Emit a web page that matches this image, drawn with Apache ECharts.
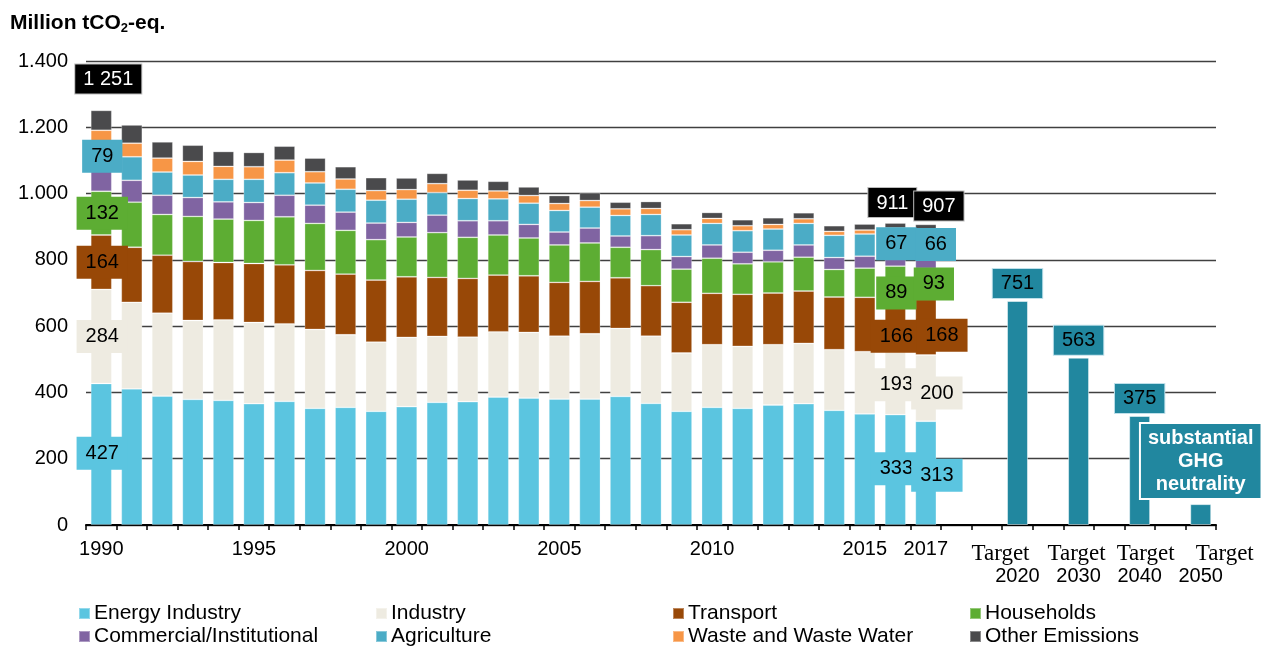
<!DOCTYPE html>
<html><head><meta charset="utf-8">
<script src="https://cdn.jsdelivr.net/npm/echarts@6/dist/echarts.min.js"></script>
<style>html,body{margin:0;padding:0;background:#fff}#c{width:1269px;height:646px}</style>
</head><body><div id="c"></div>
<script>
// ---------- data ----------
const years = ['1990','1991','1992','1993','1994','1995','1996','1997','1998','1999','2000','2001','2002','2003','2004','2005','2006','2007','2008','2009','2010','2011','2012','2013','2014','2015','2016','2017'];
const categories = years.concat(['gap1','gap2','Target 2020','gap3','Target 2030','gap4','Target 2040','gap5','Target 2050']);
const shownYears = ['1990','1995','2000','2005','2010','2015','2017'];
const targetNames = ['Target 2020','Target 2030','Target 2040','Target 2050'];

const energy      = [427,411,389,379,376,366,373,352,355,343,357,370,372,386,383,380,380,388,367,343,355,352,362,366,346,335,333,313];
const industry    = [284,261,250,238,243,245,234,238,219,209,209,199,195,197,198,190,197,205,203,176,189,187,182,182,183,188,193,200];
const transport   = [164,166,175,178,173,178,178,178,183,187,183,178,177,171,171,162,158,153,152,153,155,157,156,158,159,164,166,168];
const households  = [132,136,123,136,131,130,145,142,132,122,120,135,124,121,114,113,116, 92,109,100,106, 92, 94,102, 83, 88, 89, 93];
const commercial  = [ 63, 66, 58, 57, 52, 54, 65, 55, 55, 50, 44, 53, 50, 43, 41, 39, 45, 34, 42, 38, 40, 35, 35, 37, 36, 36, 37, 39];
const agriculture = [ 79, 71, 70, 68, 68, 70, 68, 67, 69, 69, 70, 68, 67, 66, 64, 65, 63, 62, 64, 65, 65, 65, 64, 65, 67, 67, 67, 66];
const waste       = [ 42, 41, 42, 41, 39, 38, 38, 34, 31, 29, 29, 27, 25, 24, 23, 21, 20, 20, 18, 16, 15, 15, 14, 14, 12, 12, 11, 11];
const other       = [ 60, 55, 49, 49, 45, 43, 42, 41, 37, 39, 35, 31, 31, 29, 26, 24, 23, 20, 21, 18, 18, 18, 20, 18, 17, 18, 15, 17];

const targetBars   = [676, 505, 329, 63];
const targetLabels = ['751', '563', '375', 'substantial\nGHG\nneutrality'];

// ---------- styling ----------
const FONT = '"Liberation Sans", Arial, sans-serif';
const SERIF = '"Liberation Serif", "Times New Roman", serif';
const TARGET_COLOR = '#21879f';

const totals = years.map((y, i) => energy[i] + industry[i] + transport[i] + households[i] + commercial[i] + agriculture[i] + waste[i] + other[i]);
function fmtThousands(v, sep) {
  return v >= 1000 ? Math.floor(v / 1000) + sep + String(v % 1000).padStart(3, '0') : String(v);
}

const defs = [
  {name: 'Energy Industry', data: energy, color: '#5bc5e0', lab: {'1990': [1, -1], '2016': [1, -1], '2017': [11, 2]}},
  {name: 'Industry', data: industry, color: '#eeebe1', lab: {'1990': [1, 0], '2016': [1, 2], '2017': [11, 5]}},
  {name: 'Transport', data: transport, color: '#984807', lab: {'1990': [1, 0], '2016': [1, 13], '2017': [16, 8]}},
  {name: 'Households', data: households, color: '#5dad33', lab: {'1990': [1, 0], '2016': [1, 12], '2017': [8, 0]}},
  {name: 'Commercial/Institutional', data: commercial, color: '#8064a2', lab: {}},
  {name: 'Agriculture', data: agriculture, color: '#4bacc6', lab: {'1990': [1, -1], '2016': [1, 1], '2017': [10, 0]}},
  {name: 'Waste and Waste Water', data: waste, color: '#f79646', lab: {}},
  {name: 'Other Emissions', data: other, color: '#4a4a4c', lab: {}, total: {'1990': [[7, 0], 17], '2016': [[-3, 0], 6], '2017': [[13, 0], 4]}}
];

const series = defs.map(d => ({
  name: d.name,
  type: 'bar',
  stack: 'total',
  barWidth: 21,
  itemStyle: {color: d.color, borderColor: 'rgba(255,255,255,0.35)', borderWidth: 0.8},
  data: d.data.map((v, i) => {
    const y = years[i];
    if (d.lab[y]) {
      return {value: v, label: {show: true, position: 'inside', offset: d.lab[y], backgroundColor: d.color,
        color: '#000', fontSize: 20, fontFamily: FONT, padding: [7, 9, 6, 9]}};
    }
    if (d.total && d.total[y]) {
      return {value: v, label: {show: true, position: 'top', offset: d.total[y][0], distance: d.total[y][1],
        backgroundColor: '#000', borderColor: '#bbb', borderWidth: 1, color: '#fff', fontSize: 20, fontFamily: FONT,
        padding: [5, 8, 4, 8], formatter: () => fmtThousands(totals[i], ' ')}};
    }
    return v;
  })
}));

series.push({
  name: 'Target',
  type: 'bar',
  stack: 'total',
  barWidth: 21,
  itemStyle: {color: TARGET_COLOR, borderColor: 'rgba(255,255,255,0.5)', borderWidth: 1},
  data: categories.map(c => {
    const k = targetNames.indexOf(c);
    if (k < 0) return '-';
    const last = k === targetNames.length - 1;
    return {
      value: targetBars[k],
      label: last ? {
        show: true, position: 'top', distance: 6, formatter: () => targetLabels[k],
        backgroundColor: TARGET_COLOR, borderColor: '#fff', borderWidth: 2,
        color: '#fff', fontWeight: 'bold', fontSize: 20, lineHeight: 23, fontFamily: FONT, padding: [3, 7, 2, 7], align: 'center'
      } : {
        show: true, position: 'top', distance: 3, formatter: () => targetLabels[k],
        backgroundColor: TARGET_COLOR, borderColor: '#bfe0ea', borderWidth: 1,
        color: '#000', fontSize: 20, fontFamily: FONT, padding: [5, 8, 4, 8]
      }
    };
  })
});

// legend: 4 columns x 2 rows
const legendCells = [
  {name: 'Energy Industry', left: 78, top: 602.5},
  {name: 'Industry', left: 375, top: 602.5},
  {name: 'Transport', left: 672, top: 602.5},
  {name: 'Households', left: 969, top: 602.5},
  {name: 'Commercial/Institutional', left: 78, top: 625.5},
  {name: 'Agriculture', left: 375, top: 625.5},
  {name: 'Waste and Waste Water', left: 672, top: 625.5},
  {name: 'Other Emissions', left: 969, top: 625.5}
];

const chart = echarts.init(document.getElementById('c'), null, {renderer: 'canvas'});
chart.setOption({
  animation: false,
  backgroundColor: '#fff',
  title: {
    text: '{a|Million tCO}{s|2}{a|-eq.}',
    left: 10, top: 11, padding: 0,
    textStyle: {
      rich: {
        a: {fontFamily: FONT, fontWeight: 'bold', fontSize: 21, lineHeight: 24, color: '#000'},
        s: {fontFamily: FONT, fontWeight: 'bold', fontSize: 13, lineHeight: 4, verticalAlign: 'bottom', color: '#000'}
      }
    }
  },
  legend: legendCells.map(c => ({
    orient: 'horizontal', left: c.left, top: c.top, padding: 0, itemGap: 0,
    itemWidth: 11, itemHeight: 11, icon: 'rect', selectedMode: false,
    textStyle: {fontFamily: FONT, fontSize: 21, lineHeight: 22, color: '#000', padding: [0, 0, 0, -1]},
    data: [c.name]
  })),
  grid: {left: 86, right: 53, top: 61, bottom: 121, containLabel: false},
  xAxis: {
    type: 'category',
    data: categories,
    axisLine: {show: true, lineStyle: {color: '#000', width: 2}},
    axisTick: {show: true, interval: 0, length: 5, lineStyle: {color: '#000', width: 1.5}},
    axisLabel: {
      interval: 0, margin: 14, color: '#000', fontFamily: FONT, fontSize: 20,
      formatter: (v) => {
        if (shownYears.indexOf(v) >= 0) return v;
        const k = targetNames.indexOf(v);
        if (k >= 0) return '{t' + k + '|Target}\n{y|' + v.split(' ')[1] + '}';
        return '';
      },
      rich: {
        t0: {fontFamily: SERIF, fontSize: 23, lineHeight: 30, color: '#000', padding: [0, 34, 0, 0]},
        t1: {fontFamily: SERIF, fontSize: 23, lineHeight: 30, color: '#000', padding: [0, 4, 0, 0]},
        t2: {fontFamily: SERIF, fontSize: 23, lineHeight: 30, color: '#000', padding: [0, 0, 0, 12]},
        t3: {fontFamily: SERIF, fontSize: 23, lineHeight: 30, color: '#000', padding: [0, 0, 0, 48]},
        y: {fontFamily: FONT, fontSize: 20, lineHeight: 14, color: '#000'}
      }
    }
  },
  yAxis: {
    type: 'value', min: 0, max: 1400, interval: 200,
    axisLine: {show: false}, axisTick: {show: false},
    splitLine: {show: true, lineStyle: {color: '#404040', width: 1.4}},
    axisLabel: {margin: 18, color: '#000', fontFamily: FONT, fontSize: 20, formatter: (v) => fmtThousands(v, '.')}
  },
  series: series
});
</script>
</body></html>
